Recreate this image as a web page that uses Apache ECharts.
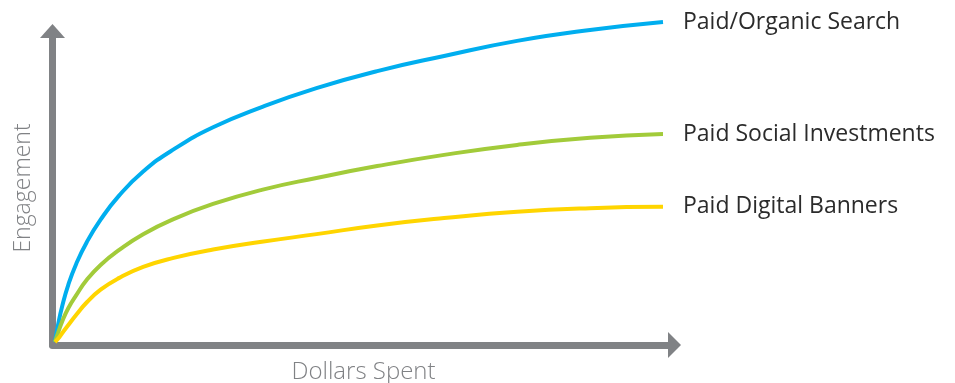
<!DOCTYPE html>
<html>
<head>
<meta charset="utf-8">
<script src="https://cdn.jsdelivr.net/npm/echarts@6/dist/echarts.min.js"></script>
<style>
  html, body { margin: 0; padding: 0; background: #fff; }
  #chart { width: 955px; height: 383px; }
</style>
</head>
<body>
<div id="chart"></div>
<script>
// dollars spent (0-100, arbitrary scale), denser near the origin where curves are steep
const spend = [0, 0.5, 1.2, 2.2, 3.5, 5.2, 7.5, 10.5, 14.5, 19.5, 26, 34, 43, 53, 64, 76, 88, 100]
const searchVals = [0, 5.3, 11.3, 17.9, 24.4, 31.0, 38.1, 45.5, 53.1, 60.0, 66.9, 73.2, 79.1, 84.4, 89.1, 93.8, 97.2, 99.7]
const socialVals = [0, 2.8, 6.5, 10.6, 14.6, 19.3, 24.0, 28.6, 33.6, 38.3, 43.0, 47.4, 51.1, 54.8, 58.3, 61.4, 63.6, 64.8]
const bannerVals = [0, 1.0, 2.8, 5.3, 8.5, 12.3, 16.3, 19.9, 23.4, 26.2, 28.8, 31.2, 33.6, 36.3, 38.6, 40.6, 41.7, 42.1]

const seriesNames = ['Paid/Organic Search', 'Paid Social Investments', 'Paid Digital Banners']
const seriesColors = ['#00AEEF', '#A2CB3A', '#FFD500']
const seriesVals = [searchVals, socialVals, bannerVals]

const axisGray = '#808285'
const FONT = '"Open Sans", "Noto Sans", sans-serif'

const chart = echarts.init(document.getElementById('chart'))

const hiddenAxis = (gridIndex) => ({
  type: 'value', gridIndex, min: 0, max: 100, show: false
})

chart.setOption({
  animation: false,
  textStyle: { fontFamily: FONT },
  grid: [
    // axes frame
    { left: 52.5, right: 280.5, top: 31, bottom: 38, outerBoundsMode: 'none' },
    // data area
    { left: 55, right: 292, top: 21, bottom: 41, outerBoundsMode: 'none' }
  ],
  xAxis: [
    {
      type: 'value', gridIndex: 0, min: 0, max: 100,
      name: 'Dollars Spent',
      nameLocation: 'middle',
      nameGap: 15,
      nameTextStyle: { color: axisGray, fontSize: 24, fontWeight: 300, fontFamily: FONT },
      axisLine: {
        show: true,
        symbol: ['none', 'triangle'],
        symbolSize: [26, 13],
        lineStyle: { color: axisGray, width: 7 }
      },
      axisTick: { show: false },
      axisLabel: { show: false },
      splitLine: { show: false }
    },
    hiddenAxis(1)
  ],
  yAxis: [
    {
      type: 'value', gridIndex: 0, min: 0, max: 100,
      name: 'Engagement',
      nameLocation: 'middle',
      nameGap: 18,
      nameTextStyle: { color: axisGray, fontSize: 23, fontWeight: 300, fontFamily: FONT },
      axisLine: {
        show: true,
        symbol: ['none', 'triangle'],
        symbolSize: [25, 14],
        lineStyle: { color: axisGray, width: 7 }
      },
      axisTick: { show: false },
      axisLabel: { show: false },
      splitLine: { show: false }
    },
    hiddenAxis(1)
  ],
  series: seriesNames.map((name, i) => ({
    name,
    type: 'line',
    xAxisIndex: 1,
    yAxisIndex: 1,
    data: spend.map((x, j) => [x, seriesVals[i][j]]),
    smooth: 0.5,
    showSymbol: false,
    lineStyle: { color: seriesColors[i], width: 4 },
    endLabel: {
      show: true,
      formatter: '{a}',
      distance: 20,
      color: '#2b2b2b',
      fontSize: 23,
      fontFamily: FONT
    }
  }))
})
</script>
</body>
</html>
